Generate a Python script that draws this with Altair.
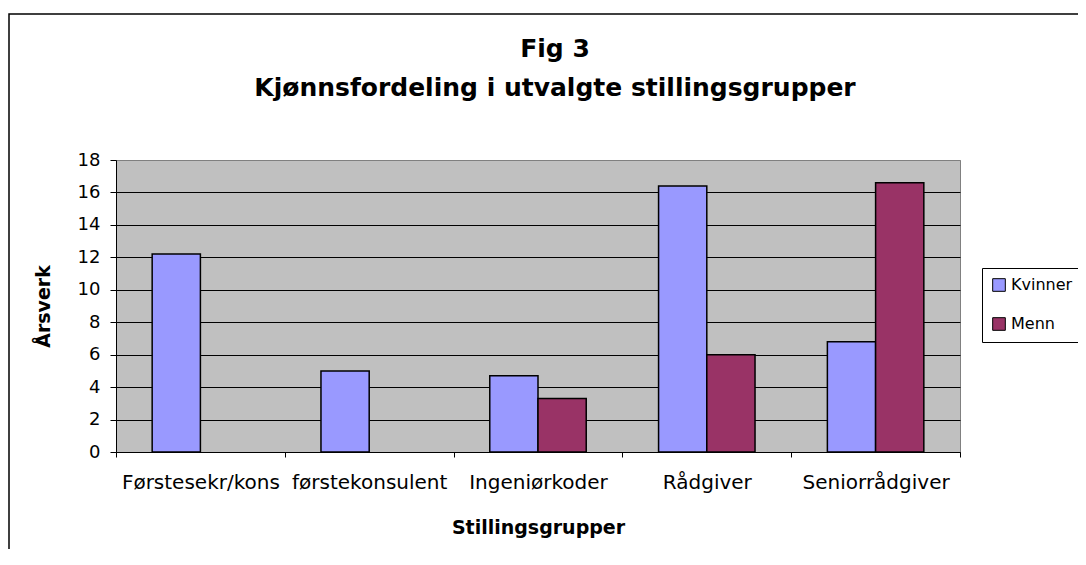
import altair as alt
import pandas as pd

categories = ["Førstesekr/kons", "førstekonsulent", "Ingeniørkoder", "Rådgiver", "Seniorrådgiver"]
series = ["Kvinner", "Menn"]
kvinner = [12.2, 5.0, 4.7, 16.4, 6.8]
menn = [None, None, 3.3, 6.0, 16.6]
colors = ["#9999FF", "#993366"]
y_ticks = [0, 2, 4, 6, 8, 10, 12, 14, 16, 18]

rows = []
for c, k, m in zip(categories, kvinner, menn):
    rows.append({"Stillingsgruppe": c, "Kjønn": "Kvinner", "Årsverk": k})
    if m is not None:
        rows.append({"Stillingsgruppe": c, "Kjønn": "Menn", "Årsverk": m})
df = pd.DataFrame(rows)

FONT = "DejaVu Sans"

bars = alt.Chart(df).mark_bar(stroke="black", strokeWidth=1.5).encode(
    x=alt.X(
        "Stillingsgruppe:N",
        sort=categories,
        scale=alt.Scale(paddingInner=0, paddingOuter=0),
        axis=alt.Axis(
            title="Stillingsgrupper",
            labelAngle=0,
            tickBand="extent",
            tickSize=5,
            labelPadding=15,
            labelFontSize=20,
            titleFontSize=19,
            titlePadding=26,
            grid=False,
        ),
    ),
    xOffset=alt.XOffset(
        "Kjønn:N",
        sort=series,
        scale=alt.Scale(paddingInner=0, paddingOuter=0.75),
    ),
    y=alt.Y(
        "Årsverk:Q",
        scale=alt.Scale(domain=[0, 18], nice=False),
        axis=alt.Axis(
            title="Årsverk",
            values=y_ticks,
            tickSize=6,
            labelPadding=10,
            labelFontSize=18,
            titleFontSize=19,
            titlePadding=24,
            grid=True,
            gridColor={"condition": {"test": "datum.value >= 18", "value": "#808080"}, "value": "black"},
            gridWidth=1,
            gridOpacity=1,
        ),
    ),
    color=alt.Color(
        "Kjønn:N",
        sort=series,
        scale=alt.Scale(domain=series, range=colors),
        legend=alt.Legend(
            title=None,
            orient="none",
            legendX=866,
            legendY=108,
            symbolType="square",
            symbolSize=160,
            symbolStrokeColor="black",
            symbolStrokeWidth=1,
            labelFont=FONT,
            labelFontSize=16,
            labelColor="black",
            labelOffset=4,
            rowPadding=21,
            padding=9,
            strokeColor="black",
            fillColor="white",
            cornerRadius=0,
        ),
    ),
)

frame = alt.Chart(alt.Data(values=[{}])).mark_rect(
    fill=None, stroke="black", strokeWidth=1.5
).encode(
    x=alt.value(-107), x2=alt.value(1000), y=alt.value(-146), y2=alt.value(600)
)

chart = alt.layer(frame, bars).properties(
    width=844,
    height=292,
    background="white",
    autosize=alt.AutoSizeParams(type="none"),
    padding={"left": 108, "top": 152, "right": 118, "bottom": 97},
    title=alt.TitleParams(
        text=["Fig 3", "Kjønnsfordeling i utvalgte stillingsgrupper"],
        font=FONT,
        fontSize=25,
        fontWeight="bold",
        color="black",
        anchor="middle",
        frame="group",
        baseline="alphabetic",
        lineHeight=39,
        offset=0,
        dx=17,
        dy=108,
    ),
).configure_view(
    fill="#C0C0C0", stroke="#808080", strokeWidth=1
).configure_axis(
    labelFont=FONT,
    titleFont=FONT,
    labelColor="black",
    titleColor="black",
    titleFontWeight="bold",
    tickColor="black",
    domainColor="black",
    domainWidth=1,
    tickWidth=1,
)

chart.save("out.html", embed_options={"renderer": "svg", "actions": False})
